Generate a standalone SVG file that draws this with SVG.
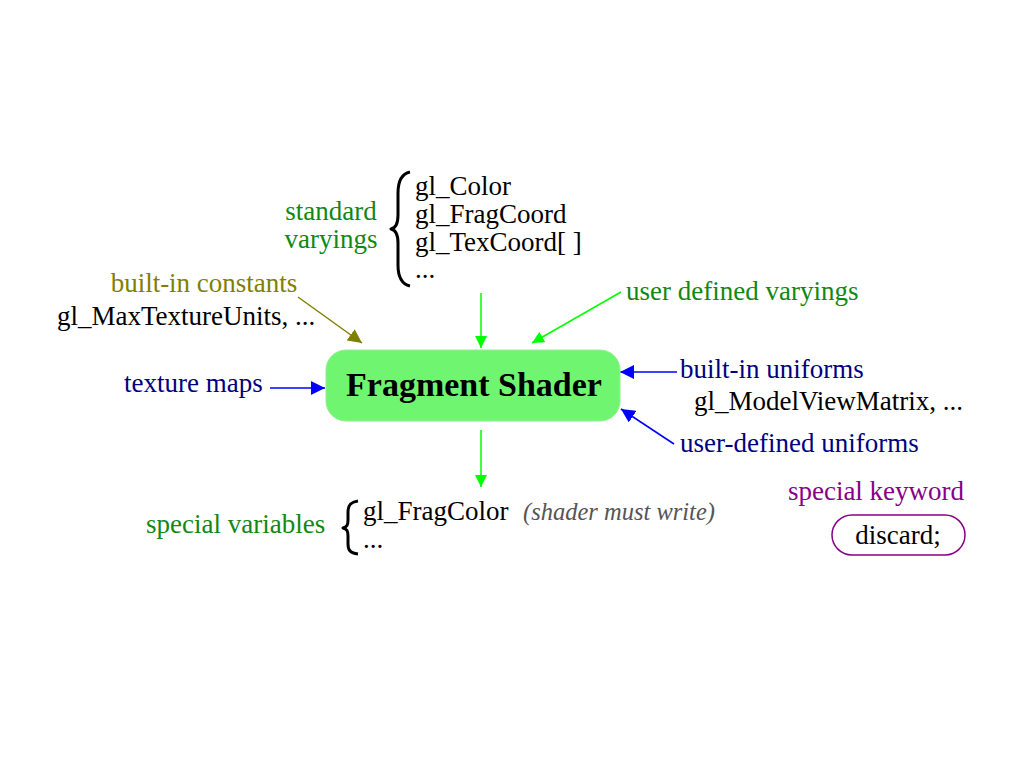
<svg xmlns="http://www.w3.org/2000/svg" width="1024" height="768" viewBox="0 0 1024 768">
<style>
text{font-family:"Liberation Serif","Times New Roman",serif;font-size:27px}
.blk{fill:#000}
.grn{fill:#118811}
.olv{fill:#808000}
.nav{fill:#000080}
.pur{fill:#880088}
.brace{fill:none;stroke:#000;stroke-width:3;stroke-linejoin:round}
.cg{stroke:#00ff00;stroke-width:1.5;fill:none}
.cb{stroke:#0000ff;stroke-width:1.5;fill:none}
.co{stroke:#808000;stroke-width:1.5;fill:none}
</style>
<defs>
<marker id="ag" viewBox="0 0 10 10" refX="10" refY="5" markerWidth="12" markerHeight="12" markerUnits="userSpaceOnUse" orient="auto"><path d="M0,0 L10,5 L0,10 z" fill="#00ff00"/></marker>
<marker id="ab" viewBox="0 0 10 10" refX="10" refY="5" markerWidth="14" markerHeight="14" markerUnits="userSpaceOnUse" orient="auto"><path d="M0,0 L10,5 L0,10 z" fill="#0000ff"/></marker>
<marker id="ao" viewBox="0 0 10 10" refX="10" refY="5" markerWidth="14" markerHeight="14" markerUnits="userSpaceOnUse" orient="auto"><path d="M0,0 L10,5 L0,10 z" fill="#808000"/></marker>
</defs>
<rect width="1024" height="768" fill="#fff"/>
<g id="connectors">
<line class="cg" x1="481" y1="293" x2="481" y2="348" marker-end="url(#ag)"/>
<line class="cg" x1="621" y1="292" x2="532" y2="343" marker-end="url(#ag)"/>
<line class="cg" x1="481" y1="430" x2="481" y2="487" marker-end="url(#ag)"/>
<line class="co" x1="298" y1="297" x2="362" y2="343" marker-end="url(#ao)"/>
<line class="cb" x1="270" y1="388" x2="325" y2="388" marker-end="url(#ab)"/>
<line class="cb" x1="677" y1="372" x2="620" y2="372" marker-end="url(#ab)"/>
<line class="cb" x1="674" y1="444" x2="621" y2="409" marker-end="url(#ab)"/>
</g>
<g id="shader">
<rect x="326" y="350" width="294" height="71" rx="20" fill="#70f570" stroke="#90f090" stroke-width="1"/>
<text x="474" y="396" text-anchor="middle" style="font-size:34px;font-weight:bold">Fragment Shader</text>
</g>
<g id="standard-varyings">
<text class="grn" x="331" y="220" text-anchor="middle">standard</text>
<text class="grn" x="331" y="248" text-anchor="middle">varyings</text>
<path class="brace" d="M410,172 C401,174 398,182 398,193 L398,215 C398,224 396,228 391,229 C396,230 398,234 398,243 L398,265 C398,276 401,284 410,286"/>
<text class="blk" x="415" y="195">gl_Color</text>
<text class="blk" x="415" y="223">gl_FragCoord</text>
<text class="blk" x="415" y="251">gl_TexCoord[ ]</text>
<text class="blk" x="415" y="278">...</text>
</g>
<g id="built-in-constants">
<text class="olv" x="204" y="292" text-anchor="middle">built-in constants</text>
<text class="blk" x="57" y="325">gl_MaxTextureUnits, ...</text>
</g>
<g id="user-varyings">
<text class="grn" x="626" y="300">user defined varyings</text>
</g>
<g id="texture-maps">
<text class="nav" x="124" y="392">texture maps</text>
</g>
<g id="built-in-uniforms">
<text class="nav" x="680" y="378">built-in uniforms</text>
<text class="blk" x="694" y="410">gl_ModelViewMatrix, ...</text>
</g>
<g id="user-uniforms">
<text class="nav" x="680" y="452">user-defined uniforms</text>
</g>
<g id="special-variables">
<text class="grn" x="146" y="533">special variables</text>
<path class="brace" d="M358,501 C350,502 348,506 348,512 L348,520 C348,525 347,527 343,528 C347,529 348,531 348,536 L348,544 C348,550 350,553 358,554"/>
<text class="blk" x="363" y="520">gl_FragColor</text>
<text class="blk" x="363" y="548">...</text>
<text x="523" y="520" style="font-size:24.5px;font-style:italic;fill:#555">(shader must write)</text>
</g>
<g id="special-keyword">
<text class="pur" x="876" y="500" text-anchor="middle">special keyword</text>
<rect x="832" y="515" width="133" height="40" rx="20" fill="#fff" stroke="#880088" stroke-width="1.5"/>
<text class="blk" x="898" y="544" text-anchor="middle">discard;</text>
</g>
</svg>
